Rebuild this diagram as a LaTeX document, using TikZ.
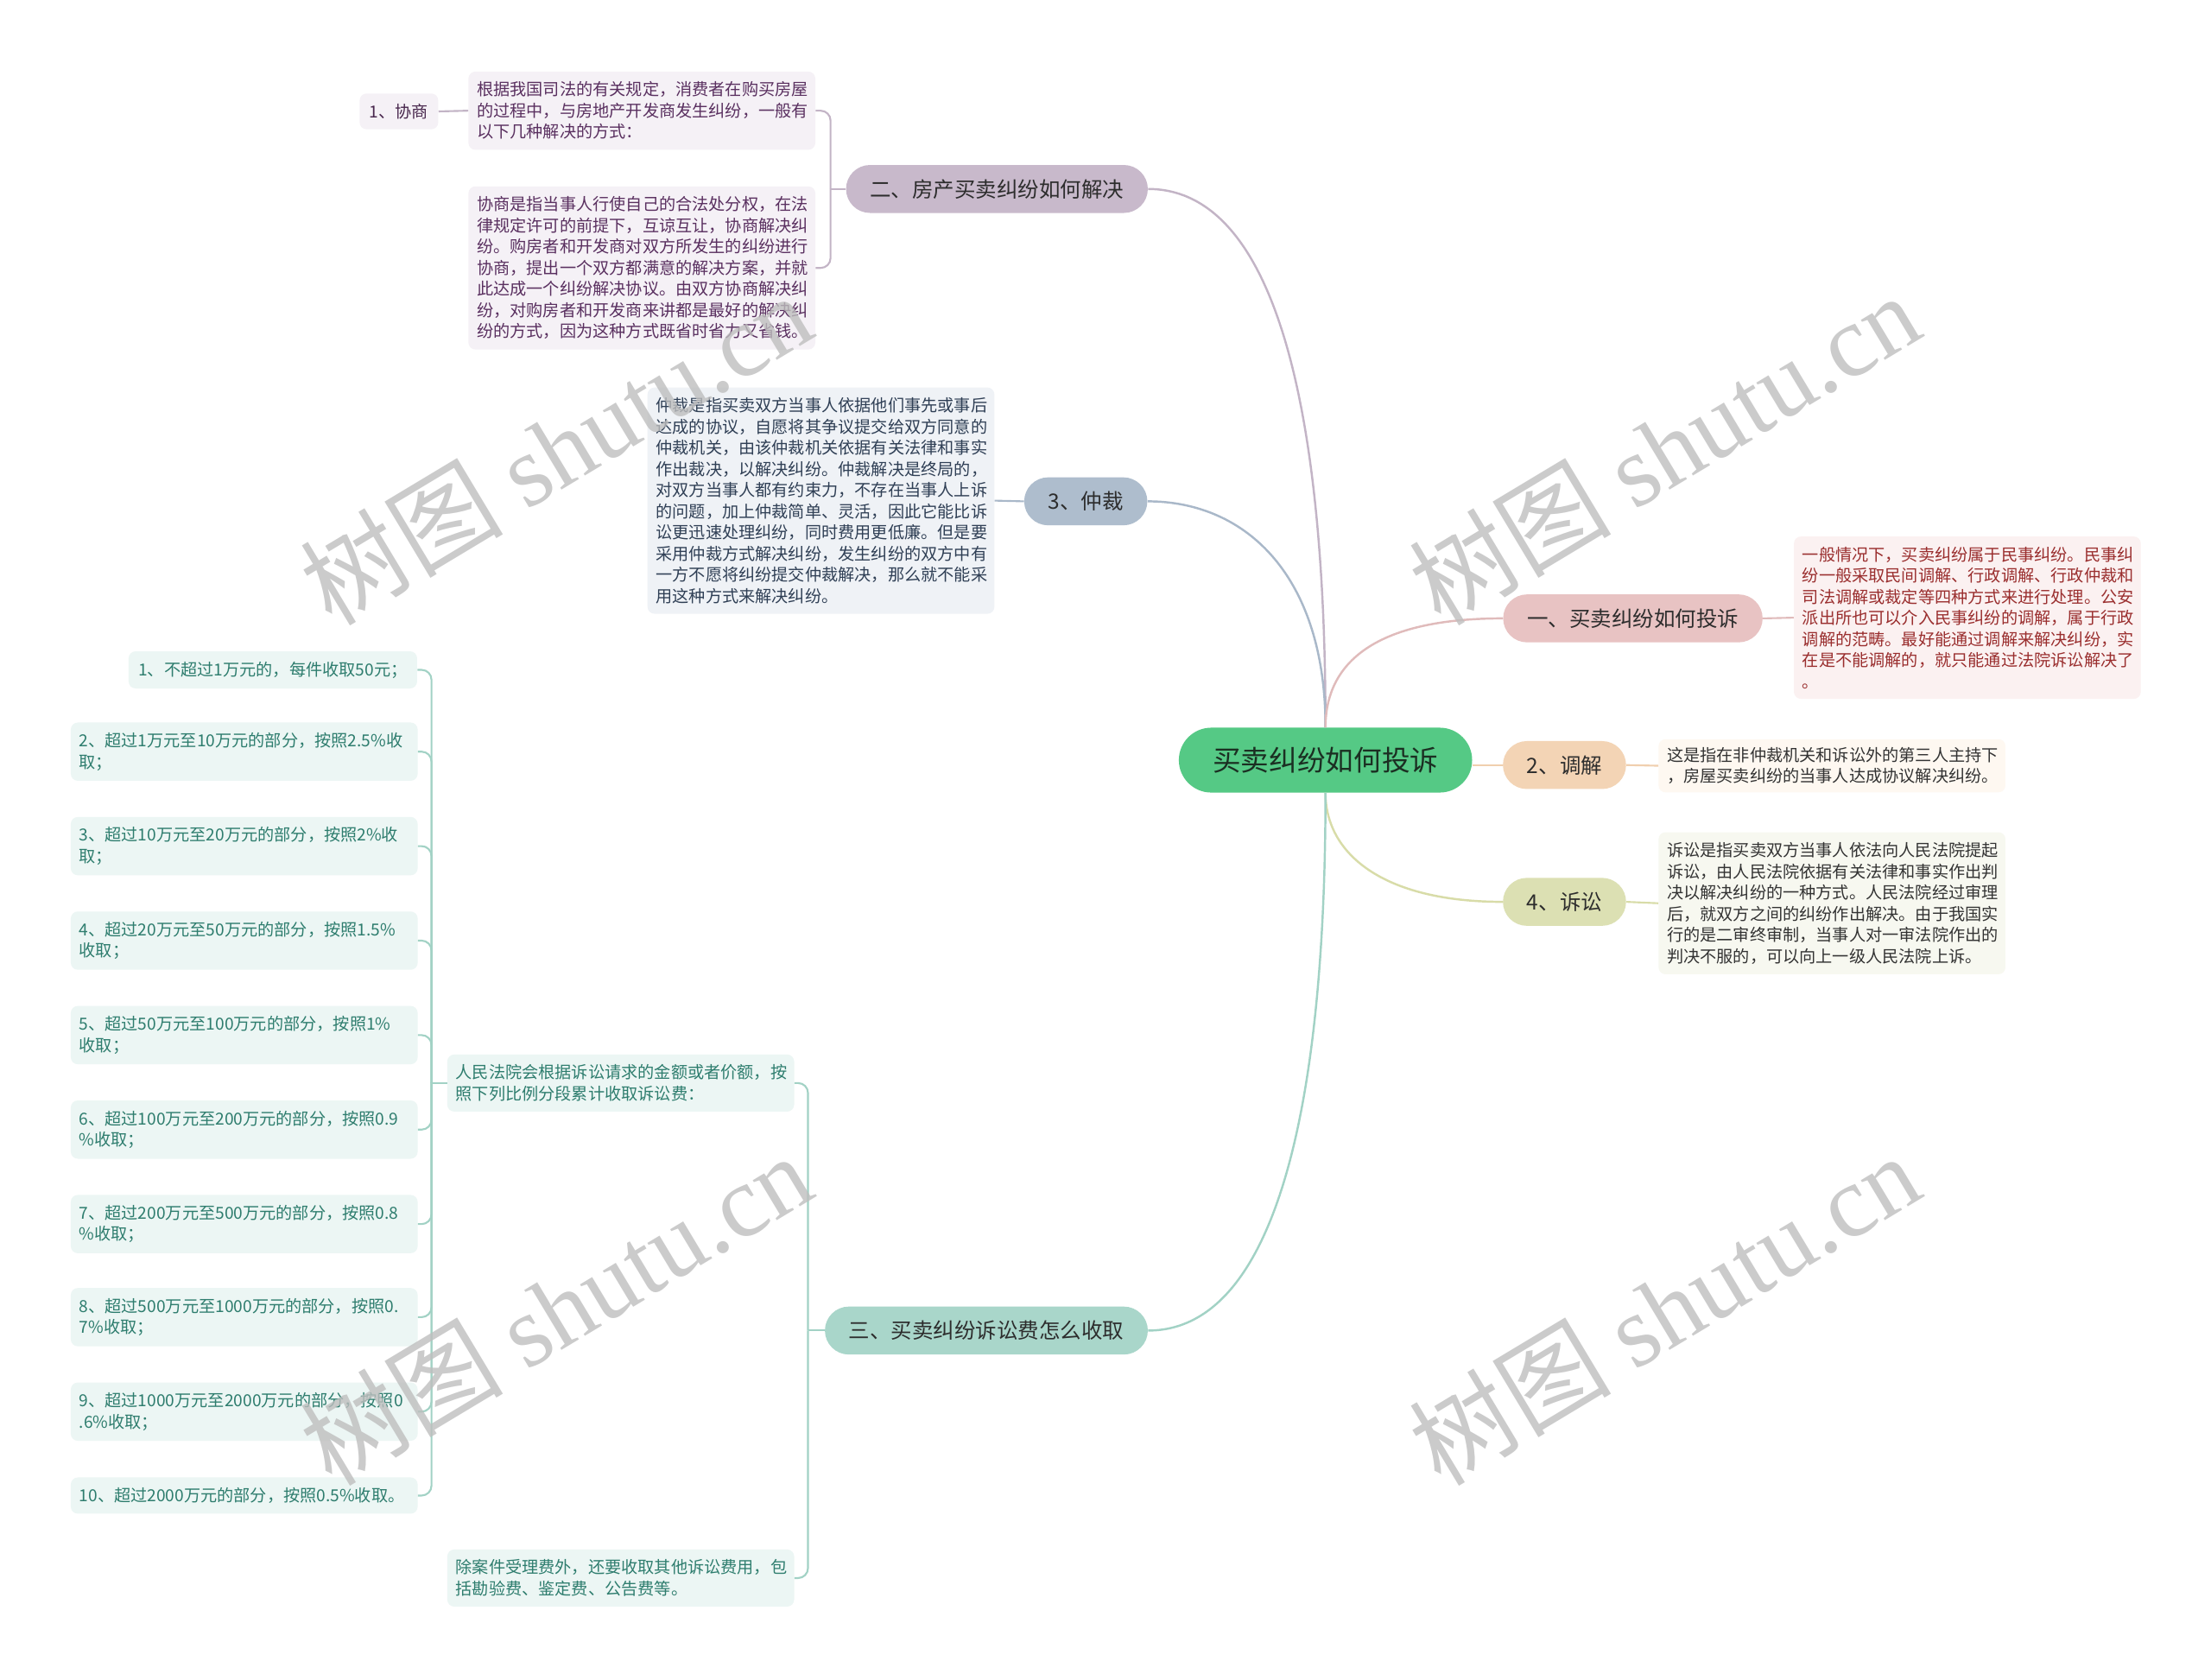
\documentclass[tikz,border=0pt]{standalone}
\usepackage{fontspec}
\setmainfont{Noto Sans CJK SC}
\newfontfamily\wmlat{Liberation Serif}
\definecolor{cRoot}{HTML}{55C985}
\definecolor{cRootT}{HTML}{1B2F22}
\definecolor{cBrT}{HTML}{2D2D2D}
% purple group
\definecolor{pB}{HTML}{C8B9CB}
\definecolor{pE}{HTML}{C3B4C6}
\definecolor{pL}{HTML}{F5F1F6}
\definecolor{pT}{HTML}{5A3060}
% blue group
\definecolor{bB}{HTML}{AEBDCD}
\definecolor{bE}{HTML}{A9B8C9}
\definecolor{bL}{HTML}{EFF2F6}
\definecolor{bT}{HTML}{2F3F55}
% pink group
\definecolor{rB}{HTML}{E8C3C3}
\definecolor{rE}{HTML}{E0BBBB}
\definecolor{rL}{HTML}{FBF1F1}
\definecolor{rT}{HTML}{9A2E2E}
% peach group
\definecolor{oB}{HTML}{F3D4B5}
\definecolor{oE}{HTML}{F0CFAE}
\definecolor{oL}{HTML}{FEF8F1}
\definecolor{oT}{HTML}{333333}
% olive group
\definecolor{gB}{HTML}{DCE0B3}
\definecolor{gE}{HTML}{D8DCA8}
\definecolor{gL}{HTML}{F7F8F0}
\definecolor{gT}{HTML}{333333}
% teal group
\definecolor{tB}{HTML}{A9D6CA}
\definecolor{tE}{HTML}{A2D2C5}
\definecolor{tL}{HTML}{ECF6F4}
\definecolor{tT}{HTML}{2E7D6E}
\definecolor{wmC}{HTML}{BEBEBE}
\begin{document}
\begin{tikzpicture}[x=1pt,y=-1pt,
  rootnode/.style={fill=cRoot, text=cRootT, rounded corners=23pt, minimum height=46pt, inner xsep=24pt, inner ysep=0pt, font=\fontsize{20}{24}\selectfont},
  branchnode/.style={rounded corners=17pt, minimum height=34pt, inner xsep=17pt, inner ysep=0pt, font=\fontsize{15}{18}\selectfont, text=cBrT},
  leafnode/.style={rounded corners=5pt, align=left, inner xsep=6pt, inner ysep=7.25pt, font=\fontsize{11.75}{15}\selectfont, text width=234pt},
  smallnode/.style={rounded corners=5pt, inner xsep=7pt, inner ysep=7.25pt, font=\fontsize{11.75}{15}\selectfont},
  edge/.style={line width=1.5pt},
  sub/.style={line width=1.3pt, rounded corners=7pt},
  wm/.style={text=wmC, opacity=0.8, font=\fontsize{72}{80}\selectfont, rotate=31, inner sep=0pt}
]
\useasboundingbox (0,0) rectangle (1568,1191);
\fill[white] (0,0) rectangle (1568,1191);

% ---------- nodes ----------
\node[rootnode] (root) at (940,539) {买卖纠纷如何投诉};

\node[branchnode, fill=pB] (b2) at (707,134) {二、房产买卖纠纷如何解决};
\node[branchnode, fill=bB] (bzc) at (770,355.5) {3、仲裁};
\node[branchnode, fill=tB] (b3) at (699.5,943.5) {三、买卖纠纷诉讼费怎么收取};
\node[branchnode, fill=rB] (b1) at (1158,438.5) {一、买卖纠纷如何投诉};
\node[branchnode, fill=oB] (btj) at (1109.5,542.5) {2、调解};
\node[branchnode, fill=gB] (bss) at (1109.5,639.5) {4、诉讼};

% purple leaves
\node[leafnode, fill=pL, text=pT, anchor=west] (lA) at (332,78.5) {根据我国司法的有关规定，消费者在购买房屋\\的过程中，与房地产开发商发生纠纷，一般有\\以下几种解决的方式：};
\node[leafnode, fill=pL, text=pT, anchor=west] (lB) at (332,190) {协商是指当事人行使自己的合法处分权，在法\\律规定许可的前提下，互谅互让，协商解决纠\\纷。购房者和开发商对双方所发生的纠纷进行\\协商，提出一个双方都满意的解决方案，并就\\此达成一个纠纷解决协议。由双方协商解决纠\\纷，对购房者和开发商来讲都是最好的解决纠\\纷的方式，因为这种方式既省时省力又省钱。};
\node[smallnode, fill=pL, text=pT!80!black, anchor=east] (xs) at (311,79) {1、协商};

% blue leaf
\node[leafnode, fill=bL, text=bT, anchor=west] (lzc) at (459,355) {仲裁是指买卖双方当事人依据他们事先或事后\\达成的协议，自愿将其争议提交给双方同意的\\仲裁机关，由该仲裁机关依据有关法律和事实\\作出裁决，以解决纠纷。仲裁解决是终局的，\\对双方当事人都有约束力，不存在当事人上诉\\的问题，加上仲裁简单、灵活，因此它能比诉\\讼更迅速处理纠纷，同时费用更低廉。但是要\\采用仲裁方式解决纠纷，发生纠纷的双方中有\\一方不愿将纠纷提交仲裁解决，那么就不能采\\用这种方式来解决纠纷。};

% pink leaf
\node[leafnode, fill=rL, text=rT, anchor=west] (l1) at (1272,438) {一般情况下，买卖纠纷属于民事纠纷。民事纠\\纷一般采取民间调解、行政调解、行政仲裁和\\司法调解或裁定等四种方式来进行处理。公安\\派出所也可以介入民事纠纷的调解，属于行政\\调解的范畴。最好能通过调解来解决纠纷，实\\在是不能调解的，就只能通过法院诉讼解决了\\。};

% peach leaf
\node[leafnode, fill=oL, text=oT, anchor=west, inner ysep=5.75pt] (ltj) at (1176,543) {这是指在非仲裁机关和诉讼外的第三人主持下\\，房屋买卖纠纷的当事人达成协议解决纠纷。};

% olive leaf
\node[leafnode, fill=gL, text=gT, anchor=west] (lss) at (1176,640.5) {诉讼是指买卖双方当事人依法向人民法院提起\\诉讼，由人民法院依据有关法律和事实作出判\\决以解决纠纷的一种方式。人民法院经过审理\\后，就双方之间的纠纷作出解决。由于我国实\\行的是二审终审制，当事人对一审法院作出的\\判决不服的，可以向上一级人民法院上诉。};

% teal leaves
\node[leafnode, fill=tL, text=tT, anchor=west] (lC) at (317,768) {人民法院会根据诉讼请求的金额或者价额，按\\照下列比例分段累计收取诉讼费：};
\node[leafnode, fill=tL, text=tT, anchor=west] (lD) at (317,1119) {除案件受理费外，还要收取其他诉讼费用，包\\括勘验费、鉴定费、公告费等。};

\node[smallnode, fill=tL, text=tT, anchor=east] (i1) at (296,475) {1、不超过1万元的，每件收取50元；};
\node[leafnode, fill=tL, text=tT, anchor=west] (i2) at (50,533) {2、超过1万元至10万元的部分，按照2.5\%收\\取；};
\node[leafnode, fill=tL, text=tT, anchor=west] (i3) at (50,600) {3、超过10万元至20万元的部分，按照2\%收\\取；};
\node[leafnode, fill=tL, text=tT, anchor=west] (i4) at (50,667) {4、超过20万元至50万元的部分，按照1.5\%\\收取；};
\node[leafnode, fill=tL, text=tT, anchor=west] (i5) at (50,734) {5、超过50万元至100万元的部分，按照1\%\\收取；};
\node[leafnode, fill=tL, text=tT, anchor=west] (i6) at (50,801) {6、超过100万元至200万元的部分，按照0.9\\\%收取；};
\node[leafnode, fill=tL, text=tT, anchor=west] (i7) at (50,868) {7、超过200万元至500万元的部分，按照0.8\\\%收取；};
\node[leafnode, fill=tL, text=tT, anchor=west] (i8) at (50,934) {8、超过500万元至1000万元的部分，按照0.\\7\%收取；};
\node[leafnode, fill=tL, text=tT, anchor=west] (i9) at (50,1001) {9、超过1000万元至2000万元的部分，按照0\\.6\%收取；};
\node[leafnode, fill=tL, text=tT, anchor=west] (i10) at (50,1060.5) {10、超过2000万元的部分，按照0.5\%收取。};

% ---------- main edges ----------
\draw[edge, pE] (root.north) .. controls (940,260) and (895,134) .. (b2.east);
\draw[edge, bE] (root.north) .. controls (940,410) and (885,355.5) .. (bzc.east);
\draw[edge, rE] (root.north) .. controls (940,470) and (975,438.5) .. (b1.west);
\draw[edge, oE] (root.east |- btj.west) -- (btj.west);
\draw[edge, gE] (root.south) .. controls (940,605) and (980,639.5) .. (bss.west);
\draw[edge, tE] (root.south) .. controls (940,800) and (900,943.5) .. (b3.east);

% ---------- sub connectors ----------
\coordinate (j2) at (589,134);
\draw[sub, pE] (b2.west) -- (j2);
\draw[sub, pE] (lA.east) -| (j2);
\draw[sub, pE] (lB.east) -| (j2);
\draw[sub, pE] (xs.east) -- (lA.west);

\draw[sub, bE] (lzc.east) -- (bzc.west);
\draw[sub, rE] (b1.east) -- (l1.west);
\draw[sub, oE] (btj.east) -- (ltj.west);
\draw[sub, gE] (bss.east) -- (lss.west);

\coordinate (j3) at (573,943.5);
\draw[sub, tE] (b3.west) -- (j3);
\draw[sub, tE] (lC.east) -| (j3);
\draw[sub, tE] (lD.east) -| (j3);

\coordinate (jc) at (306,768);
\draw[sub, tE] (lC.west) -- (jc);
\foreach \n in {i1,i2,i3,i4,i5,i6,i7,i8,i9,i10}
  \draw[sub, tE] (\n.east) -| (jc);

% ---------- watermarks ----------
\node[wm] (w1) at (394,318) {树图 {\wmlat shutu.cn}};
\node[wm] (w2) at (1180,318) {树图 {\wmlat shutu.cn}};
\node[wm] (w3) at (394,928) {树图 {\wmlat shutu.cn}};
\node[wm] (w4) at (1180,928) {树图 {\wmlat shutu.cn}};
\end{tikzpicture}
\end{document}
